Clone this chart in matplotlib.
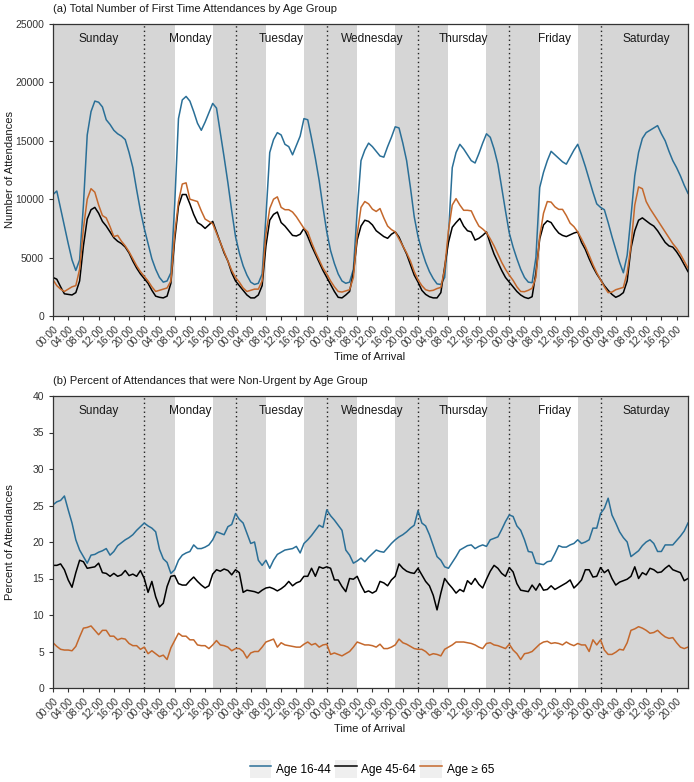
import matplotlib
matplotlib.use("Agg")
import matplotlib.pyplot as plt
import matplotlib.transforms as mtransforms
from matplotlib.legend_handler import HandlerLine2D
from matplotlib.patches import Rectangle
from matplotlib.lines import Line2D
import numpy as np

plt.rcParams['font.family'] = ['Liberation Sans', 'DejaVu Sans']

# ---------------- data ----------------
days = ["Sunday", "Monday", "Tuesday", "Wednesday", "Thursday", "Friday", "Saturday"]
hour_labels = ["00:00", "04:00", "08:00", "12:00", "16:00", "20:00"]
series_names = ["Age 16-44", "Age 45-64", "Age \u2265 65"]

# (a) Number of first time attendances, hourly, Sunday 00:00 .. Saturday 23:00
count_16_44 = [
    10400, 10700, 9200, 7700, 6200, 4800, 3900, 4800, 9500, 15500, 17500, 18400, 18300, 17900, 16800, 16400, 15900, 15600, 15400, 15100, 14000, 12700, 10800, 9000,
    7500, 6200, 4900, 4000, 3300, 2900, 3000, 3700, 9500, 16900, 18500, 18800, 18400, 17500, 16500, 15900, 16600, 17400, 18200, 17800, 15700, 13600, 11400, 9000,
    6800, 5400, 4300, 3500, 2900, 2700, 2800, 3600, 8500, 14000, 15100, 15700, 15500, 14700, 14500, 13800, 14600, 15400, 16900, 16800, 15200, 13500, 11600, 9300,
    7200, 5600, 4500, 3600, 3000, 2800, 2900, 4000, 9000, 13300, 14200, 14800, 14500, 14100, 13700, 13600, 14500, 15300, 16200, 16100, 14800, 13300, 11000, 8500,
    6800, 5600, 4600, 3800, 3200, 2750, 2700, 3300, 7000, 12700, 14000, 14700, 14300, 13800, 13300, 13100, 13900, 14800, 15600, 15300, 14300, 13000, 11000, 9000,
    7100, 5900, 4900, 4000, 3300, 2900, 2850, 5000, 11000, 12300, 13300, 14100, 13800, 13500, 13200, 13000, 13600, 14200, 14700, 13800, 12800, 11700, 10600, 9600,
    9300, 9100, 8000, 6800, 5700, 4600, 3700, 5200, 8500, 12000, 14000, 15200, 15700, 15900, 16100, 16300, 15600, 15000, 14100, 13300, 12700, 12000, 11200, 10500,
]
count_45_64 = [
    3300, 3150, 2500, 1900, 1850, 1800, 2000, 3000, 6000, 8300, 9100, 9300, 8800, 8100, 7700, 7200, 6700, 6400, 6200, 5900, 5400, 4700, 4100, 3600,
    3200, 2800, 2200, 1700, 1600, 1550, 1700, 2800, 6500, 9400, 10400, 10400, 9600, 8700, 8000, 7800, 7500, 7800, 8100, 7200, 6300, 5400, 4700, 3700,
    3000, 2600, 2200, 1800, 1550, 1550, 1800, 2600, 6000, 8200, 8700, 8900, 8000, 7700, 7300, 6900, 6850, 7000, 7500, 6800, 6000, 5300, 4600, 3900,
    3300, 2700, 2100, 1600, 1550, 1800, 2100, 3700, 6500, 7700, 8200, 8100, 7800, 7300, 7050, 6800, 6650, 7000, 7200, 6750, 6000, 5300, 4400, 3500,
    2900, 2200, 1850, 1650, 1550, 1550, 2000, 4200, 6300, 7600, 8000, 8350, 7700, 7300, 7200, 6500, 6650, 6900, 7200, 6200, 5300, 4600, 3900, 3300,
    2900, 2500, 2100, 1800, 1600, 1500, 1650, 3700, 6600, 7800, 8150, 8000, 7500, 7100, 6900, 6800, 6950, 7100, 7200, 6300, 5700, 4900, 4200, 3600,
    3100, 2600, 2200, 1850, 1600, 1750, 2000, 3000, 5800, 7300, 8200, 8400, 8150, 7900, 7700, 7300, 6800, 6300, 6000, 5900, 5500, 5000, 4400, 3800,
]
count_65 = [
    3100, 2600, 2300, 2100, 2300, 2500, 2600, 4000, 7500, 10000, 10900, 10600, 9500, 8600, 8400, 7650, 6800, 6900, 6400, 6000, 5500, 4900, 4300, 3800,
    3400, 3000, 2500, 2100, 2200, 2300, 2400, 3000, 7000, 9800, 11300, 11400, 10000, 9900, 9800, 9000, 8300, 8100, 7900, 7100, 6300, 5500, 4700, 3900,
    3300, 2900, 2400, 2100, 2200, 2300, 2300, 3000, 7000, 9200, 10000, 10200, 9300, 9100, 9100, 8900, 8500, 8000, 7500, 7200, 6300, 5500, 4800, 4100,
    3600, 3000, 2500, 2100, 2050, 2150, 2250, 3300, 7000, 9300, 9800, 9600, 9150, 8950, 9200, 8400, 7700, 7400, 7200, 6600, 6000, 5400, 4700, 3800,
    3100, 2600, 2250, 2150, 2200, 2350, 2450, 4000, 7300, 9500, 10050, 9500, 9050, 9050, 9000, 8300, 7700, 7450, 7150, 6600, 6000, 5300, 4600, 4000,
    3500, 3050, 2500, 2100, 2080, 2200, 2370, 3300, 6800, 8800, 9800, 9750, 9350, 9130, 9130, 8600, 7950, 7650, 7200, 6600, 5950, 5200, 4400, 3700,
    3100, 2500, 2000, 2050, 2250, 2350, 2450, 3700, 6000, 9500, 11050, 10900, 9800, 9200, 8700, 8200, 7700, 7200, 6700, 6200, 5800, 5300, 4700, 4100,
]

# (b) Percent non-urgent, hourly
pct_16_44 = [
    25.1, 25.5, 25.7, 26.3, 24.4, 22.6, 20.3, 18.9, 18.0, 17.1, 18.2, 18.3, 18.6, 18.8, 19.1, 18.2, 18.7, 19.5, 19.9, 20.3, 20.6, 21.0, 21.6, 22.1,
    22.6, 22.2, 21.9, 21.4, 19.0, 17.7, 17.2, 15.7, 16.2, 17.5, 18.2, 18.5, 18.7, 19.6, 19.1, 19.1, 19.3, 19.6, 20.3, 21.4, 21.2, 21.0, 22.1, 22.4,
    23.9, 23.1, 22.6, 21.2, 19.8, 20.0, 17.5, 16.8, 17.5, 16.4, 17.5, 18.3, 18.6, 18.9, 19.0, 19.1, 19.4, 18.5, 19.8, 20.3, 20.9, 21.6, 22.3, 22.0,
    24.4, 23.6, 23.0, 22.3, 21.6, 18.9, 18.2, 17.1, 17.4, 17.8, 17.3, 17.9, 18.4, 18.9, 18.7, 18.6, 19.2, 19.8, 20.3, 20.7, 21.0, 21.4, 21.9, 22.3,
    24.3, 22.6, 22.2, 21.0, 19.5, 18.0, 17.5, 16.6, 16.4, 17.2, 18.0, 18.9, 19.2, 19.5, 19.6, 19.1, 19.4, 19.6, 19.4, 20.3, 20.5, 20.7, 21.7, 22.8,
    23.7, 23.5, 22.2, 21.6, 20.3, 18.7, 18.6, 17.1, 17.0, 16.9, 17.3, 17.4, 18.4, 19.5, 19.3, 19.3, 19.6, 19.8, 20.3, 19.8, 20.0, 20.3, 21.9, 21.9,
    23.9, 24.6, 26.0, 23.7, 22.6, 21.4, 20.6, 20.0, 18.0, 18.4, 18.8, 19.5, 20.0, 20.3, 19.8, 18.7, 18.7, 19.6, 19.6, 19.6, 20.2, 20.8, 21.5, 22.6,
]
pct_45_64 = [
    16.8, 16.8, 17.0, 16.2, 14.8, 13.8, 15.8, 17.5, 17.3, 16.4, 16.5, 16.6, 17.1, 15.8, 15.7, 15.3, 15.7, 15.3, 15.5, 16.1, 15.4, 15.6, 15.3, 16.1,
    15.0, 13.1, 14.6, 12.5, 11.1, 11.6, 13.9, 15.3, 15.4, 14.3, 14.1, 14.1, 14.7, 15.2, 14.6, 14.1, 13.7, 14.0, 15.6, 16.2, 16.0, 16.3, 16.1, 15.5,
    16.2, 15.8, 13.1, 13.4, 13.3, 13.2, 13.0, 13.4, 13.7, 13.8, 13.6, 13.3, 13.6, 14.0, 14.6, 14.0, 14.4, 14.6, 15.3, 15.3, 16.4, 15.3, 16.6, 16.4,
    16.6, 16.4, 14.8, 14.8, 13.9, 13.2, 15.0, 14.9, 15.3, 14.1, 13.1, 13.3, 13.0, 13.3, 14.6, 14.4, 14.0, 14.8, 15.3, 17.0, 16.4, 16.0, 15.8, 15.7,
    16.4, 15.5, 14.6, 14.0, 12.7, 10.7, 13.0, 15.0, 14.3, 13.7, 13.0, 13.5, 13.2, 14.7, 14.2, 15.0, 14.2, 13.7, 14.9, 16.0, 16.8, 16.4, 15.7, 15.3,
    16.5, 15.9, 14.3, 13.4, 13.3, 13.2, 14.1, 13.4, 14.3, 13.4, 13.5, 14.0, 13.5, 13.8, 14.1, 14.4, 14.8, 13.7, 14.2, 14.8, 16.2, 16.2, 15.2, 15.3,
    16.5, 15.8, 16.2, 15.0, 14.1, 14.5, 14.7, 14.9, 15.3, 16.6, 15.0, 15.8, 15.5, 16.4, 16.2, 15.8, 15.9, 16.4, 16.8, 16.2, 16.0, 15.8, 14.7, 15.0,
]
pct_65 = [
    6.2, 5.7, 5.3, 5.2, 5.2, 5.1, 5.7, 7.0, 8.2, 8.3, 8.5, 7.9, 7.3, 7.9, 7.9, 7.1, 7.1, 6.6, 6.8, 6.7, 6.1, 5.8, 5.8, 5.3,
    5.6, 4.7, 5.1, 4.7, 4.3, 4.5, 3.9, 5.5, 6.5, 7.5, 7.1, 7.1, 6.6, 6.6, 5.9, 5.8, 5.8, 5.4, 5.9, 6.5, 5.9, 5.8, 5.6, 5.1,
    5.4, 5.4, 5.0, 4.1, 4.8, 5.0, 5.0, 5.6, 6.3, 6.5, 6.7, 5.6, 6.2, 5.9, 5.8, 5.7, 5.6, 5.6, 6.0, 6.3, 5.9, 6.1, 5.6, 5.9,
    6.0, 4.6, 4.8, 4.6, 4.4, 4.7, 5.0, 5.6, 6.3, 6.1, 5.9, 5.9, 5.8, 5.6, 6.0, 5.4, 5.4, 5.6, 5.9, 6.7, 6.2, 6.0, 5.7, 5.4,
    5.3, 5.3, 5.0, 4.5, 4.7, 4.6, 4.4, 5.3, 5.6, 5.9, 6.3, 6.3, 6.3, 6.2, 6.1, 5.9, 5.6, 5.4, 6.1, 6.2, 5.9, 5.8, 5.6, 5.4,
    6.0, 5.2, 4.7, 3.9, 4.7, 4.8, 5.0, 5.5, 6.0, 6.3, 6.4, 6.1, 6.2, 6.1, 5.9, 6.3, 6.0, 5.8, 6.1, 5.9, 5.9, 5.0, 6.6, 5.9,
    6.6, 5.2, 4.6, 4.6, 4.9, 5.3, 5.2, 6.2, 7.9, 8.1, 8.4, 8.2, 7.9, 7.5, 7.6, 7.9, 7.4, 7.0, 6.8, 6.9, 6.2, 5.6, 5.4, 5.6,
]

# weekday daytime (unshaded) hours
weekday_days = [1, 2, 3, 4, 5]
day_start_hour, day_end_hour = 8, 18

# ---------------- style ----------------
colors = ["#2a6f97", "#000000", "#c4682c"]
shade = "#d6d6d6"
W, H = 694, 782
fig = plt.figure(figsize=(W / 100, H / 100), dpi=100)

def frac_box(l, t, r, b):
    return [l / W, 1 - b / H, (r - l) / W, (b - t) / H]

ax1 = fig.add_axes(frac_box(53, 24, 688, 316))
ax2 = fig.add_axes(frac_box(53, 396, 688, 688))

n_hours = len(count_16_44)
hours = np.arange(n_hours)
tick_pos = np.arange(0, n_hours, 4)
tick_lab = [hour_labels[(i // 4) % 6] for i in tick_pos]

def decorate(ax, ymax, ystep):
    # shading: grey except weekday daytime
    white = [(24 * d + day_start_hour, 24 * d + day_end_hour) for d in weekday_days]
    edges = [0]
    for a, b in white:
        edges += [a, b]
    edges.append(n_hours - 1)
    for i in range(0, len(edges), 2):
        ax.axvspan(edges[i], edges[i + 1], facecolor=shade, edgecolor='none', zorder=0)
    for d in range(1, 7):
        ax.axvline(24 * d, color='#222222', linestyle=(0, (1, 2.2)), linewidth=1.0, zorder=1)
    trans = mtransforms.blended_transform_factory(ax.transData, ax.transAxes)
    for i, name in enumerate(days):
        ax.text(24 * i + 12, 0.948, name, transform=trans, ha='center', va='center',
                fontsize=8.6, color='#1a1a1a', zorder=3)
    ax.set_xlim(0, n_hours - 1)
    ax.set_ylim(0, ymax)
    ax.set_yticks(np.arange(0, ymax + 1e-9, ystep))
    ax.set_xticks(tick_pos)
    ax.set_xticklabels(tick_lab, rotation=45, ha='right', va='top', rotation_mode='anchor')
    ax.tick_params(axis='both', labelsize=7.5, colors='#333333', length=3, width=0.8, direction='out')
    ax.tick_params(axis='x', pad=2.5)
    for s in ax.spines.values():
        s.set_color('#333333')
        s.set_linewidth(0.9)

decorate(ax1, 25000, 5000)
decorate(ax2, 40, 5)
ax1.set_yticklabels([str(int(v)) for v in np.arange(0, 25001, 5000)])

for ax, series in ((ax1, (count_16_44, count_45_64, count_65)),
                   (ax2, (pct_16_44, pct_45_64, pct_65))):
    for vals, c in zip(series, colors):
        ax.plot(hours, vals, color=c, linewidth=1.1, zorder=2)

txt = '#1a1a1a'
fig.text(53 / W, 1 - 9.5 / H, "(a) Total Number of First Time Attendances by Age Group",
         ha='left', va='center', fontsize=8, color=txt)
fig.text(53 / W, 1 - 381 / H, "(b) Percent of Attendances that were Non-Urgent by Age Group",
         ha='left', va='center', fontsize=8, color=txt)
fig.text(370 / W, 1 - 357 / H, "Time of Arrival", ha='center', va='center', fontsize=8, color=txt)
fig.text(370 / W, 1 - 729 / H, "Time of Arrival", ha='center', va='center', fontsize=8, color=txt)
fig.text(10 / W, 1 - 170 / H, "Number of Attendances", ha='center', va='center',
         rotation=90, fontsize=8, color=txt)
fig.text(10 / W, 1 - 542 / H, "Percent of Attendances", ha='center', va='center',
         rotation=90, fontsize=8, color=txt)

class KeyBox(HandlerLine2D):
    def create_artists(self, legend, orig_handle, xdescent, ydescent, width, height, fontsize, trans):
        arts = super().create_artists(legend, orig_handle, xdescent, ydescent, width, height, fontsize, trans)
        r = Rectangle((-xdescent, -ydescent), width, height, facecolor='#efefef',
                      edgecolor='none', transform=trans)
        return [r] + list(arts)

handles = [Line2D([], [], color=c, linewidth=1.1) for c in colors]
fig.legend(handles, series_names, loc='center', bbox_to_anchor=(372 / W, 1 - 769 / H),
           ncol=3, frameon=False, fontsize=8.6, handlelength=1.8, handleheight=1.9,
           handletextpad=0.4, columnspacing=0.35, borderpad=0,
           handler_map={Line2D: KeyBox()})

fig.savefig("out.png", dpi=100)
